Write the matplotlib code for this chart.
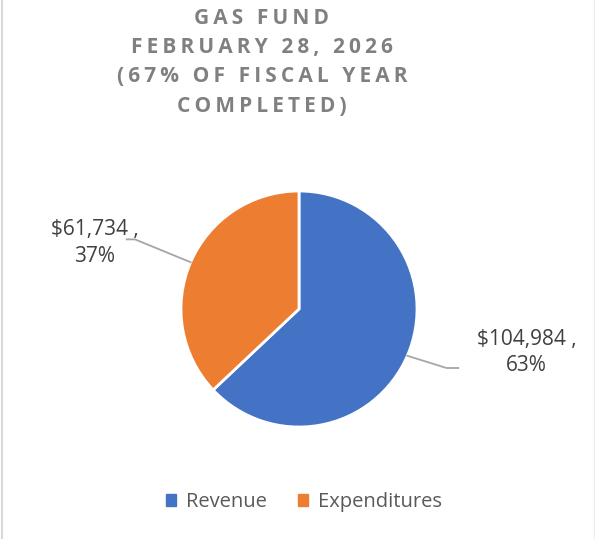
import numpy as np
import matplotlib.pyplot as plt
from matplotlib.patches import Rectangle
from matplotlib.lines import Line2D

categories = ["Revenue", "Expenditures"]
amounts = [104984, 61734]
colors = ["#4472C4", "#ED7D31"]
title_lines = ["GAS FUND", "FEBRUARY 28, 2026", "(67% OF FISCAL YEAR", "COMPLETED)"]

# where the labels sit (data coords of the pie axes) and the leader elbows
label_pos = [(1.93, -0.37), (-1.73, 0.56)]
elbow = [((1.25, -0.50), (1.35, -0.50)), ((-1.39, 0.59), (-1.46, 0.59))]

W, H = 595, 539
fig = plt.figure(figsize=(W / 100, H / 100), dpi=100)
# chart frame: only the side edges show
fig.lines.append(Line2D([1.5 / W, 1.5 / W], [0, 1], transform=fig.transFigure,
                        color="#D9D9D9", linewidth=1.5))
fig.lines.append(Line2D([1 - 1.5 / W, 1 - 1.5 / W], [0, 1], transform=fig.transFigure,
                        color="#EEEEEE", linewidth=1))

cx, cy, r = 299, 309, 118
ax = fig.add_axes([(cx - r) / W, (H - cy - r) / H, 2 * r / W, 2 * r / H])
wedges, _ = ax.pie(amounts, colors=colors, startangle=90, counterclock=False, radius=1,
                   wedgeprops=dict(edgecolor="white", linewidth=2))
ax.set_xlim(-1, 1)
ax.set_ylim(-1, 1)
ax.set_aspect("equal")
ax.axis("off")

total = sum(amounts)
for w, amt, (lx, ly), (e1, e2) in zip(wedges, amounts, label_pos, elbow):
    mid = np.deg2rad((w.theta1 + w.theta2) / 2)
    x0, y0 = np.cos(mid), np.sin(mid)
    ax.plot([x0, e1[0], e2[0]], [y0, e1[1], e2[1]], color="#A6A6A6", linewidth=1.3,
            clip_on=False)
    pct = round(amt / total * 100)
    ax.text(lx, ly, f"${amt:,} ,\n{pct}%", ha="center", va="center", fontsize=15,
            color="#404040", family=["Open Sans", "DejaVu Sans"], linespacing=1.35,
            clip_on=False)

sp = "\u2009"
ys = [18, 47, 77, 106]
for line, y in zip(title_lines, ys):
    fig.text(262 / W, 1 - y / H, sp.join(line), ha="center", va="center", fontsize=15,
             fontweight="bold", color="#808080", family=["Open Sans", "DejaVu Sans"])

handles = [Rectangle((0, 0), 1, 1, color=c) for c in colors]
fig.legend(handles, categories, loc="center", bbox_to_anchor=(304 / W, 1 - 502 / H), ncol=2,
           frameon=False, handlelength=0.5, handleheight=0.5, handletextpad=0.5,
           columnspacing=1.5, labelcolor="#595959",
           prop={"family": ["Open Sans", "DejaVu Sans"], "size": 14.5})

fig.savefig("out.png", dpi=100)
